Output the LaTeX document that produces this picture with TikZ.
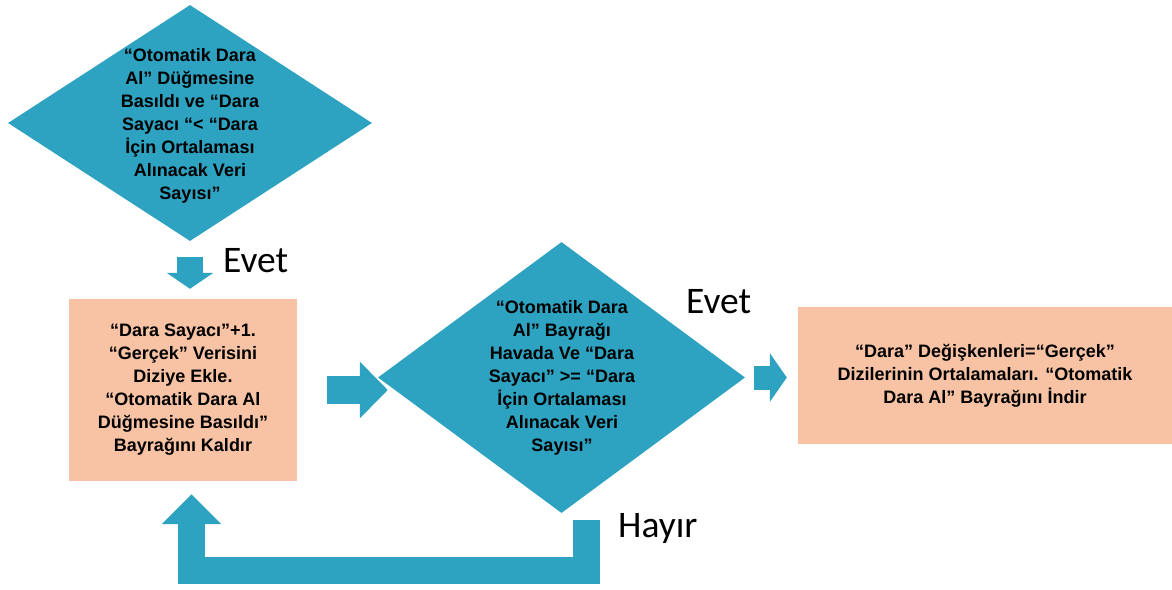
\documentclass[tikz,border=0pt]{standalone}
\usepackage{fontspec}
\setmainfont{Liberation Sans}
\newfontfamily\labelfont{Carlito}
\usetikzlibrary{shapes.geometric,arrows.meta}
\definecolor{tealc}{HTML}{2DA3C1}
\definecolor{salmonc}{HTML}{F8C3A4}
\begin{document}
\begin{tikzpicture}[x=1pt,y=-1pt,
  dia/.style={diamond, fill=tealc, inner sep=0pt},
  box/.style={rectangle, fill=salmonc, inner sep=0pt, align=center, text=black,
    font=\bfseries\fontsize{18}{23}\selectfont},
  txt/.style={font=\bfseries\fontsize{18}{23}\selectfont, align=center, text=black, inner sep=0pt},
  lbl/.style={font=\labelfont\fontsize{37.5}{40}\selectfont, text=black, inner sep=0pt, anchor=base west},
  blockarrow/.style={draw=tealc, line join=miter},
]
\useasboundingbox (0,0) rectangle (1172,589);

% shapes
\node[dia, minimum width=364pt, minimum height=236pt] (d1) at (190,123) {};
\node[txt] (t1) at (190,126) {“Otomatik Dara\\Al” Düğmesine\\Basıldı ve “Dara\\Sayacı “< “Dara\\İçin Ortalaması\\Alınacak Veri\\Sayısı”};

\node[box, minimum width=228pt, minimum height=182pt] (r1) at (183,390)
  {“Dara Sayacı”+1.\\“Gerçek” Verisini\\Diziye Ekle.\\“Otomatik Dara Al\\Düğmesine Basıldı”\\Bayrağını Kaldır};

\node[dia, minimum width=367pt, minimum height=271pt] (d2) at (561.5,377.5) {};
\node[txt] (t2) at (562,378) {“Otomatik Dara\\Al” Bayrağı\\Havada Ve “Dara\\Sayacı” >= “Dara\\İçin Ortalaması\\Alınacak Veri\\Sayısı”};

\node[box, minimum width=374pt, minimum height=137pt] (r2) at (985,375.5)
  {“Dara” Değişkenleri=“Gerçek”\\Dizilerinin Ortalamaları. “Otomatik\\Dara Al” Bayrağını İndir};

% block arrows
\draw[blockarrow, line width=26pt, -{Triangle[width=46pt,length=16pt]}]
  ([yshift=-16pt]d1.south) -- ([yshift=10pt]r1.north -| d1.south);

\draw[white, line width=31pt, -{Triangle[width=61pt,length=32pt]}]
  ([xshift=29pt]r1.east) -- ([xshift=12pt]d2.west |- r1.east);
\draw[blockarrow, line width=28pt, -{Triangle[width=55pt,length=28pt]}]
  ([xshift=30pt]r1.east) -- ([xshift=10pt]d2.west |- r1.east);

\draw[blockarrow, line width=24pt, -{Triangle[width=48pt,length=17pt]}]
  ([xshift=9pt]d2.east) -- ([xshift=-11pt]r2.west |- d2.east);

\coordinate (nostart) at ([xshift=24.5pt,yshift=-7pt]d2.south);
\coordinate (noend) at ([xshift=8.5pt,yshift=-13pt]r1.south);
\draw[blockarrow, line width=27pt, -{Triangle[width=58pt,length=30pt]}]
  (nostart) -- ++(0,50) -| (noend);

% labels
\node[lbl] (e1) at (223,272) {Evet};
\node[lbl] (e2) at (686,313) {Evet};
\node[lbl] (h1) at (618,537) {Hayır};
\end{tikzpicture}
\end{document}
